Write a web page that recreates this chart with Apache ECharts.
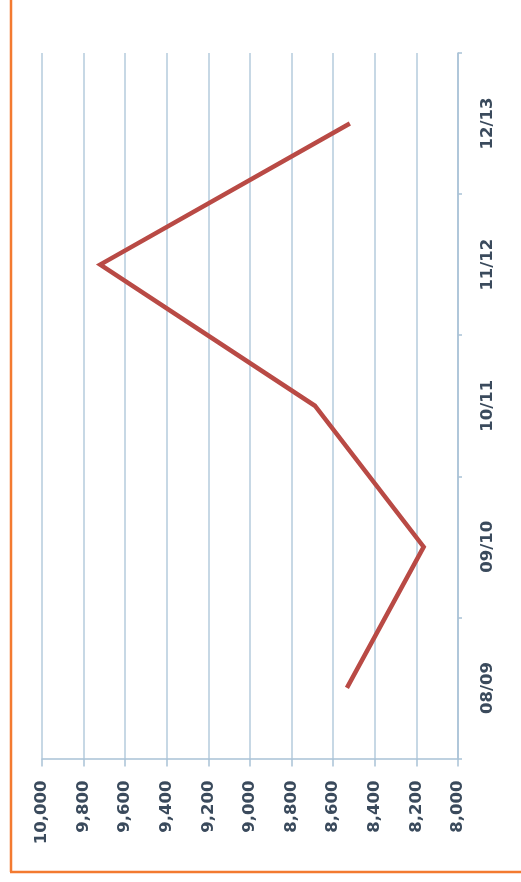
<!DOCTYPE html>
<html>
<head>
<meta charset="utf-8">
<script src="https://cdn.jsdelivr.net/npm/echarts@6/dist/echarts.min.js"></script>
<style>
html,body{margin:0;padding:0;background:#fff;}
#c{width:521px;height:882px;}
</style>
</head>
<body>
<div id="c"></div>
<script>
const categories = ['08/09', '09/10', '10/11', '11/12', '12/13'];
const values = [8534, 8165, 8688, 9720, 8520];
const valueMin = 8000;
const valueMax = 10000;
const valueStep = 200;

const chart = echarts.init(document.getElementById('c'), null, {renderer: 'canvas'});
const axisColor = '#a9c2d6';
const labelStyle = {
  color: '#3a4a5c',
  fontFamily: 'DejaVu Sans',
  fontWeight: 'bold',
  fontSize: 16.5
};
chart.setOption({
  animation: false,
  backgroundColor: '#ffffff',
  grid: {left: 42, right: 63, top: 53, bottom: 123.5, containLabel: false},
  xAxis: {
    type: 'value',
    position: 'bottom',
    inverse: true,
    min: valueMin,
    max: valueMax,
    interval: valueStep,
    axisLine: {show: true, lineStyle: {color: axisColor, width: 1.5}},
    axisTick: {show: true, length: 8, lineStyle: {color: axisColor, width: 1.5}},
    splitLine: {show: true, lineStyle: {color: '#b5cbdd', width: 1.5}},
    axisLabel: Object.assign({
      rotate: 90,
      margin: 22,
      formatter: v => v.toLocaleString('en-US')
    }, labelStyle)
  },
  yAxis: {
    type: 'category',
    position: 'right',
    data: categories,
    boundaryGap: true,
    axisLine: {show: true, lineStyle: {color: axisColor, width: 1.5}},
    axisTick: {show: true, length: 4, lineStyle: {color: axisColor, width: 1.5}},
    splitLine: {show: false},
    axisLabel: Object.assign({rotate: 90, margin: 21}, labelStyle)
  },
  series: [{
    type: 'line',
    data: values,
    symbol: 'none',
    lineStyle: {color: '#b94a45', width: 4.5, join: 'miter'}
  }],
  graphic: [
    {type: 'line', shape: {x1: 11, y1: 0, x2: 11, y2: 872}, style: {stroke: '#f37a30', lineWidth: 2.5}},
    {type: 'line', shape: {x1: 10, y1: 872, x2: 521, y2: 872}, style: {stroke: '#f37a30', lineWidth: 2.5}}
  ]
});
</script>
</body>
</html>
